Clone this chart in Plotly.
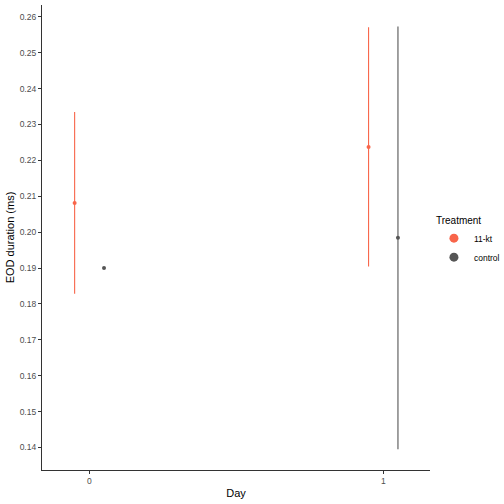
import plotly.graph_objects as go

# values
days = [0, 1]
treatments = ["11-kt", "control"]
eod_mean = {"11-kt": [0.2081, 0.2237], "control": [0.1900, 0.1984]}
eod_low = {"11-kt": [0.1828, 0.1904], "control": [0.1900, 0.1395]}
eod_high = {"11-kt": [0.2335, 0.2571], "control": [0.1900, 0.2573]}
colors = {"11-kt": "#F8654A", "control": "#555555"}
dodge = {"11-kt": -0.05, "control": 0.05}

fig = go.Figure()
for t in treatments:
    xs = [d + dodge[t] for d in days]
    up = [h - m for h, m in zip(eod_high[t], eod_mean[t])]
    dn = [m - l for m, l in zip(eod_mean[t], eod_low[t])]
    fig.add_trace(go.Scatter(
        x=xs, y=eod_mean[t], mode="markers", name=t, showlegend=False,
        marker=dict(color=colors[t], size=4),
        error_y=dict(type="data", symmetric=False, array=up, arrayminus=dn,
                     color=colors[t], thickness=1.1, width=0),
    ))
    # legend key, bigger dot like ggplot
    fig.add_trace(go.Scatter(
        x=[None], y=[None], mode="markers", name=t,
        marker=dict(color=colors[t], size=9),
    ))

fig.update_layout(
    width=504, height=504,
    margin=dict(l=42, r=74, t=5, b=34),
    plot_bgcolor="white", paper_bgcolor="white",
    font=dict(family="Liberation Sans, Arial, sans-serif", size=11, color="black"),
    legend=dict(title=dict(text="Treatment", font=dict(size=10)),
                font=dict(size=8.5), xref="container", yref="container",
                x=0.861, xanchor="left", y=0.582, yanchor="top",
                tracegroupgap=0, itemwidth=30),
)
fig.update_xaxes(
    range=[-0.161, 1.159], tickvals=days, ticktext=[str(d) for d in days],
    showgrid=False, zeroline=False, showline=True, linecolor="#333333", linewidth=1.2,
    ticks="outside", ticklen=3, tickcolor="#333333",
    tickfont=dict(size=8.5, color="#4D4D4D"), automargin=False,
    title=dict(text="Day", font=dict(size=11), standoff=4),
)
fig.update_yaxes(
    range=[0.1337, 0.2633], dtick=0.01, tickformat=".2f",
    showgrid=False, zeroline=False, showline=True, linecolor="#333333", linewidth=1.2,
    ticks="outside", ticklen=3, tickcolor="#333333",
    tickfont=dict(size=8.5, color="#4D4D4D"), automargin=False,
    title=dict(text="EOD duration (ms)", font=dict(size=11), standoff=2),
)

# page body has an 8px default margin; drop it so the 504px figure fits
fig.write_html("out.html", config={"displayModeBar": False},
               post_script="document.body.style.margin='0';")
